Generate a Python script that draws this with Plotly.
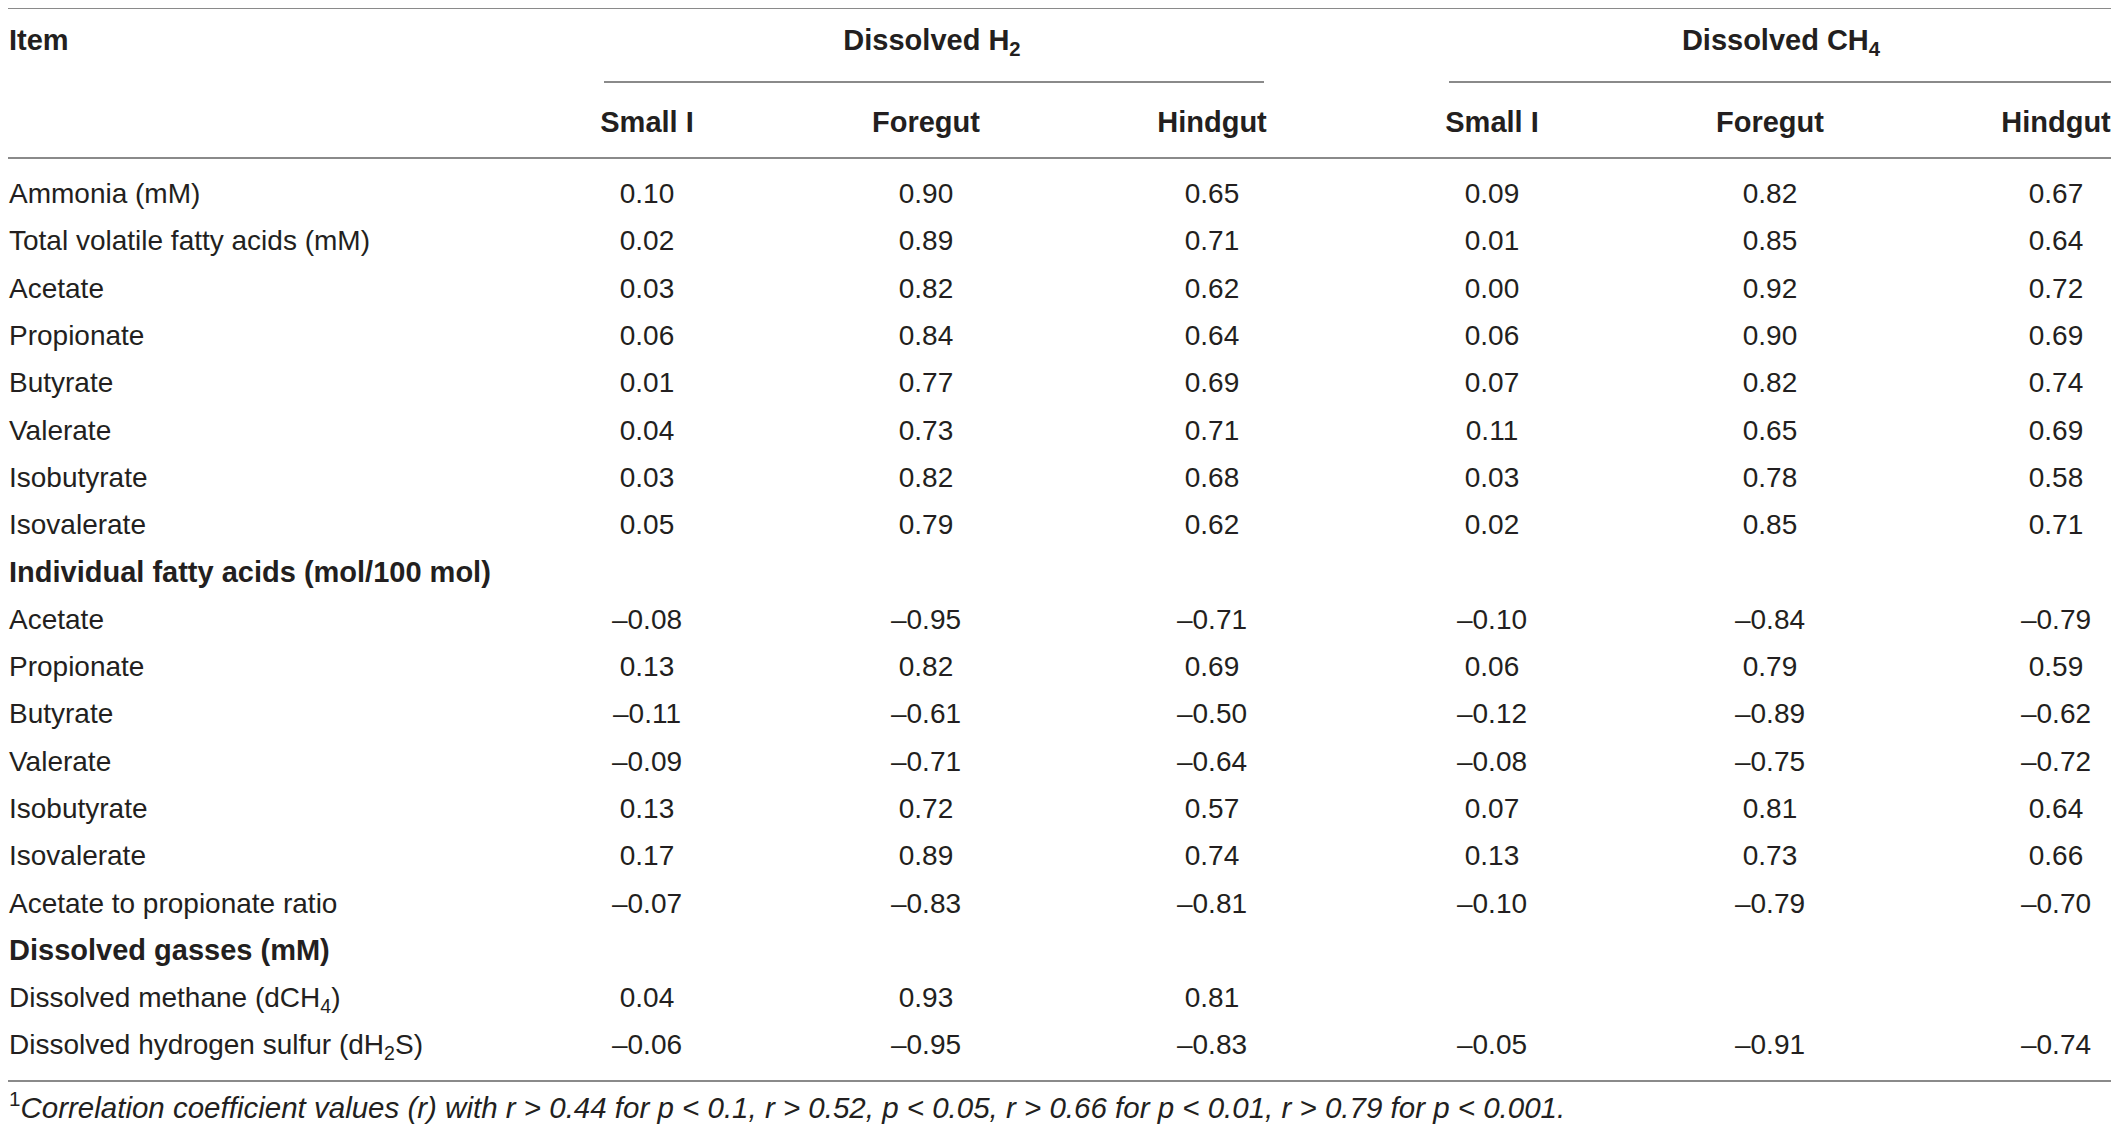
import plotly.graph_objects as go

# table content
ITEMS = [
    "Ammonia (mM)",
    "Total volatile fatty acids (mM)",
    "Acetate",
    "Propionate",
    "Butyrate",
    "Valerate",
    "Isobutyrate",
    "Isovalerate",
    "Individual fatty acids (mol/100 mol)",
    "Acetate",
    "Propionate",
    "Butyrate",
    "Valerate",
    "Isobutyrate",
    "Isovalerate",
    "Acetate to propionate ratio",
    "Dissolved gasses (mM)",
    "Dissolved methane (dCH<sub>4</sub>)",
    "Dissolved hydrogen sulfur (dH<sub>2</sub>S)",
]
SECTIONS = ["Individual fatty acids (mol/100 mol)", "Dissolved gasses (mM)"]

GROUPS = ["Dissolved H<sub>2</sub>", "Dissolved CH<sub>4</sub>"]
SUBCOLS = ["Small I", "Foregut", "Hindgut"]

h2_small = [0.10, 0.02, 0.03, 0.06, 0.01, 0.04, 0.03, 0.05, None,
            -0.08, 0.13, -0.11, -0.09, 0.13, 0.17, -0.07, None, 0.04, -0.06]
h2_fore = [0.90, 0.89, 0.82, 0.84, 0.77, 0.73, 0.82, 0.79, None,
           -0.95, 0.82, -0.61, -0.71, 0.72, 0.89, -0.83, None, 0.93, -0.95]
h2_hind = [0.65, 0.71, 0.62, 0.64, 0.69, 0.71, 0.68, 0.62, None,
           -0.71, 0.69, -0.50, -0.64, 0.57, 0.74, -0.81, None, 0.81, -0.83]
ch4_small = [0.09, 0.01, 0.00, 0.06, 0.07, 0.11, 0.03, 0.02, None,
             -0.10, 0.06, -0.12, -0.08, 0.07, 0.13, -0.10, None, None, -0.05]
ch4_fore = [0.82, 0.85, 0.92, 0.90, 0.82, 0.65, 0.78, 0.85, None,
            -0.84, 0.79, -0.89, -0.75, 0.81, 0.73, -0.79, None, None, -0.91]
ch4_hind = [0.67, 0.64, 0.72, 0.69, 0.74, 0.69, 0.58, 0.71, None,
            -0.79, 0.59, -0.62, -0.72, 0.64, 0.66, -0.70, None, None, -0.74]

FOOTNOTE = ("<sup>1</sup><i>Correlation coefficient values (r) with r &gt; 0.44 for p &lt; 0.1, "
            "r &gt; 0.52, p &lt; 0.05, r &gt; 0.66 for p &lt; 0.01, r &gt; 0.79 for p &lt; 0.001.</i>")

# layout (screen pixel units, y grows downward)
W, H = 2119, 1136
PAD = 8  # page body margin around the plot div
LEFT_X = 9
COL_X = [647, 926, 1212, 1492, 1770, 2056]
GROUP_X = [932, 1781]
ROW0, ROW_STEP = 196, 47.3
Y_GROUP, Y_SUB, Y_NOTE = 43, 125, 1111
FONT = "Liberation Sans, Arial, Helvetica, sans-serif"
INK = "#231f20"
RULE = "#8a8a8a"
FS = 28
FS_B = 29
FS_NOTE = 29.5


def fmt(v):
    return f"{v:.2f}".replace("-", "\u2013")


row_y = [ROW0 + ROW_STEP * i for i in range(len(ITEMS))]
columns = [h2_small, h2_fore, h2_hind, ch4_small, ch4_fore, ch4_hind]

fig = go.Figure()

# item labels
reg = [(t, y) for t, y in zip(ITEMS, row_y) if t not in SECTIONS]
sec = [(t, y) for t, y in zip(ITEMS, row_y) if t in SECTIONS]
fig.add_trace(go.Scatter(
    x=[LEFT_X] * len(reg), y=[y for _, y in reg], text=[t for t, _ in reg],
    mode="text", textposition="middle right",
    textfont=dict(family=FONT, size=FS, color=INK),
))
fig.add_trace(go.Scatter(
    x=[LEFT_X] * len(sec), y=[y for _, y in sec], text=[t for t, _ in sec],
    mode="text", textposition="middle right",
    textfont=dict(family=FONT, size=FS_B, color=INK, weight="bold"),
))

# values
for cx, vals in zip(COL_X, columns):
    pts = [(y, fmt(v)) for y, v in zip(row_y, vals) if v is not None]
    fig.add_trace(go.Scatter(
        x=[cx] * len(pts), y=[y for y, _ in pts], text=[t for _, t in pts],
        mode="text", textposition="middle center",
        textfont=dict(family=FONT, size=FS, color=INK),
    ))

# headers
fig.add_trace(go.Scatter(
    x=[LEFT_X], y=[Y_GROUP], text=["Item"], mode="text", textposition="middle right",
    textfont=dict(family=FONT, size=FS_B, color=INK, weight="bold"),
))
fig.add_trace(go.Scatter(
    x=GROUP_X, y=[Y_GROUP] * len(GROUPS), text=GROUPS, mode="text",
    textposition="middle center",
    textfont=dict(family=FONT, size=FS_B, color=INK, weight="bold"),
))
fig.add_trace(go.Scatter(
    x=COL_X, y=[Y_SUB] * len(COL_X), text=SUBCOLS * len(GROUPS), mode="text",
    textposition="middle center",
    textfont=dict(family=FONT, size=FS_B, color=INK, weight="bold"),
))

# footnote
fig.add_trace(go.Scatter(
    x=[LEFT_X], y=[Y_NOTE], text=[FOOTNOTE], mode="text", textposition="middle right",
    textfont=dict(family=FONT, size=FS_NOTE, color=INK),
))

# rules
for x0, x1, y in [(PAD, 2113, 8), (604, 1264, 82), (1449, 2113, 82),
                  (PAD, 2113, 158), (PAD, 2113, 1081)]:
    fig.add_shape(type="line", x0=x0, x1=x1, y0=y, y1=y, xref="x", yref="y",
                  line=dict(color=RULE, width=2))

fig.update_traces(hoverinfo="skip", showlegend=False, cliponaxis=False)
fig.update_layout(
    width=W - 2 * PAD, height=H - 2 * PAD,
    margin=dict(l=0, r=0, t=0, b=0),
    paper_bgcolor="white", plot_bgcolor="white",
    xaxis=dict(range=[PAD, W - PAD], visible=False, fixedrange=True),
    yaxis=dict(range=[H - PAD, PAD], visible=False, fixedrange=True),
)

fig.write_html("out.html")
